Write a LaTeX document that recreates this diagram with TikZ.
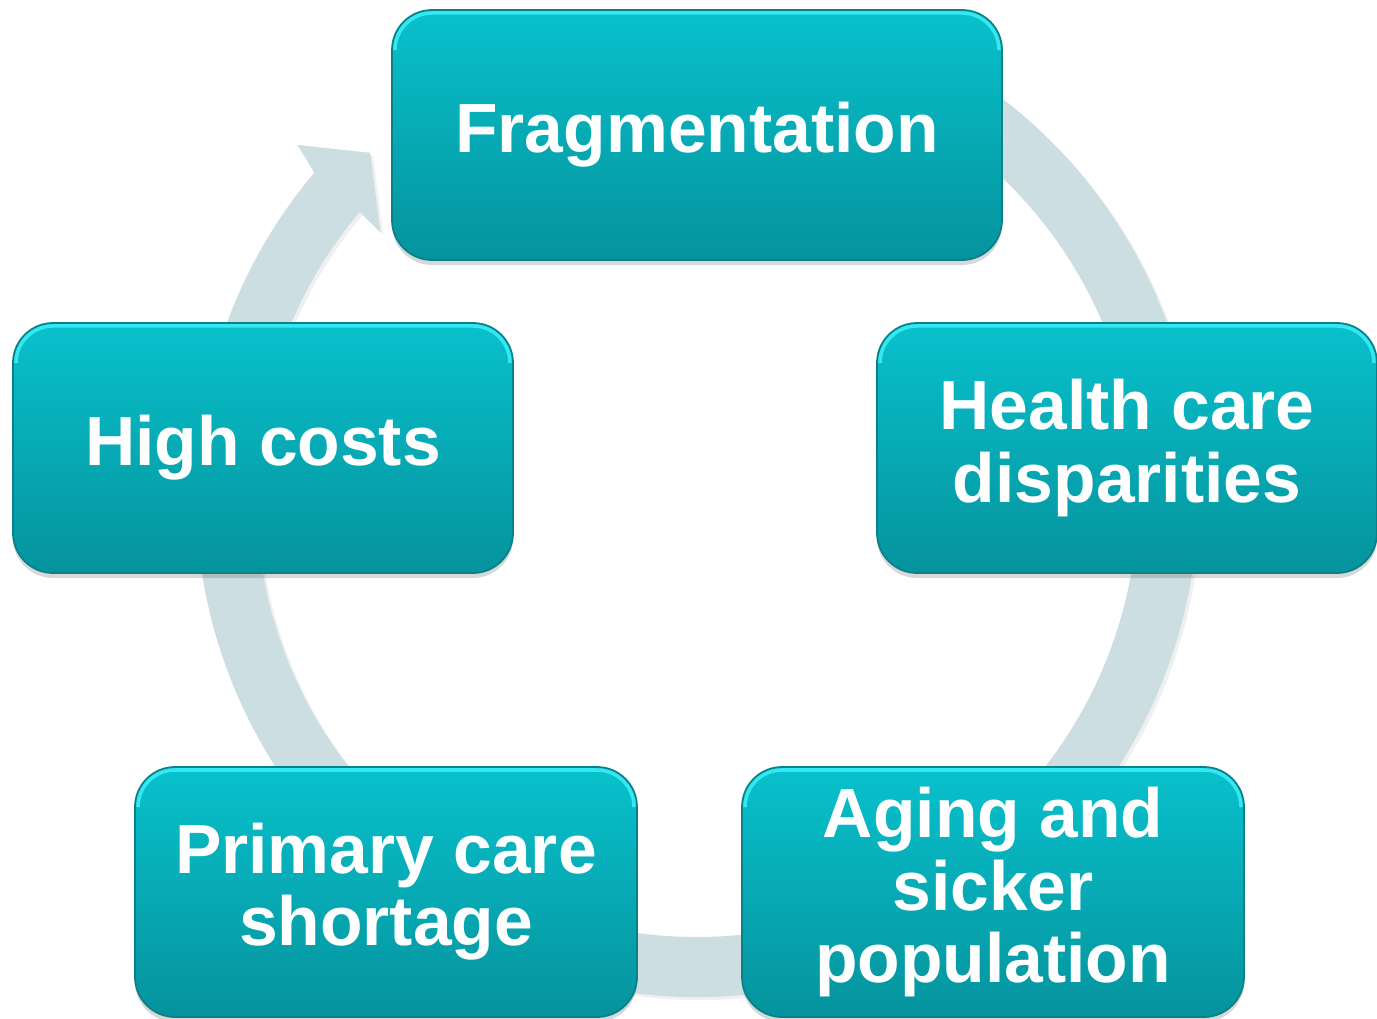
\documentclass[tikz,border=0pt]{standalone}
\usepackage{fontspec}
\usepackage{tikz}
\usetikzlibrary{shadows}
\newfontfamily\labelfont{Liberation Sans}
\definecolor{boxtop}{HTML}{08C1CC}
\definecolor{boxbot}{HTML}{05939D}
\definecolor{boxedge}{HTML}{0A8188}
\definecolor{hilite}{HTML}{3DEFF7}
\definecolor{ringcol}{HTML}{CDDEE2}

\begin{document}
\begin{tikzpicture}[
    cyclebox/.style={rounded corners=0.4cm, minimum height=2.5cm, inner sep=0pt,
        align=center, text=white, font=\labelfont\bfseries\fontsize{19.8}{20.5}\selectfont,
        top color=boxtop, bottom color=boxbot, draw=boxedge, line width=0.5pt,
        drop shadow={shadow xshift=0cm, shadow yshift=-0.05cm, opacity=0.22, fill=black!70}},
    topglow/.style={hilite, line width=1pt, rounded corners=0.37cm, opacity=0.85},
    ring/.style={fill=ringcol, drop shadow={shadow xshift=0.03cm, shadow yshift=-0.03cm, opacity=0.12}}
]
    \useasboundingbox (0,0) rectangle (13.77,10.18);

    % Ring with arrowhead
    \begin{scope}[shift={(6.97,5.22)}]
        \fill[ring] (65:5.01) arc[start angle=65, end angle=-220.2, radius=5.01]
            -- (138.7:5.32) -- (133.6:4.74) -- (140.2:4.12) -- (139.9:4.41)
            arc[start angle=139.9, end angle=425, radius=4.41] -- cycle;
    \end{scope}

    % Boxes
    \node[cyclebox, minimum width=6.1cm] (frag) at (6.97, 8.83) {Fragmentation};
    \node[cyclebox, minimum width=5.0cm] (high) at (2.63, 5.70) {High costs};
    \node[cyclebox, minimum width=5.0cm] (health) at (11.27, 5.70) {Health care\\disparities};
    \node[cyclebox, minimum width=5.02cm] (aging) at (9.93, 1.26) {Aging and\\sicker\\population};
    \node[cyclebox, minimum width=5.02cm] (primary) at (3.86, 1.26) {Primary care\\shortage};

    % Top highlights
    \foreach \n in {frag, high, health, aging, primary}
        \draw[topglow] ([xshift=1.1pt, yshift=-0.4cm]\n.north west) -- ([xshift=1.1pt, yshift=-1.1pt]\n.north west)
            -- ([xshift=-1.1pt, yshift=-1.1pt]\n.north east) -- ([xshift=-1.1pt, yshift=-0.4cm]\n.north east);
\end{tikzpicture}
\end{document}
